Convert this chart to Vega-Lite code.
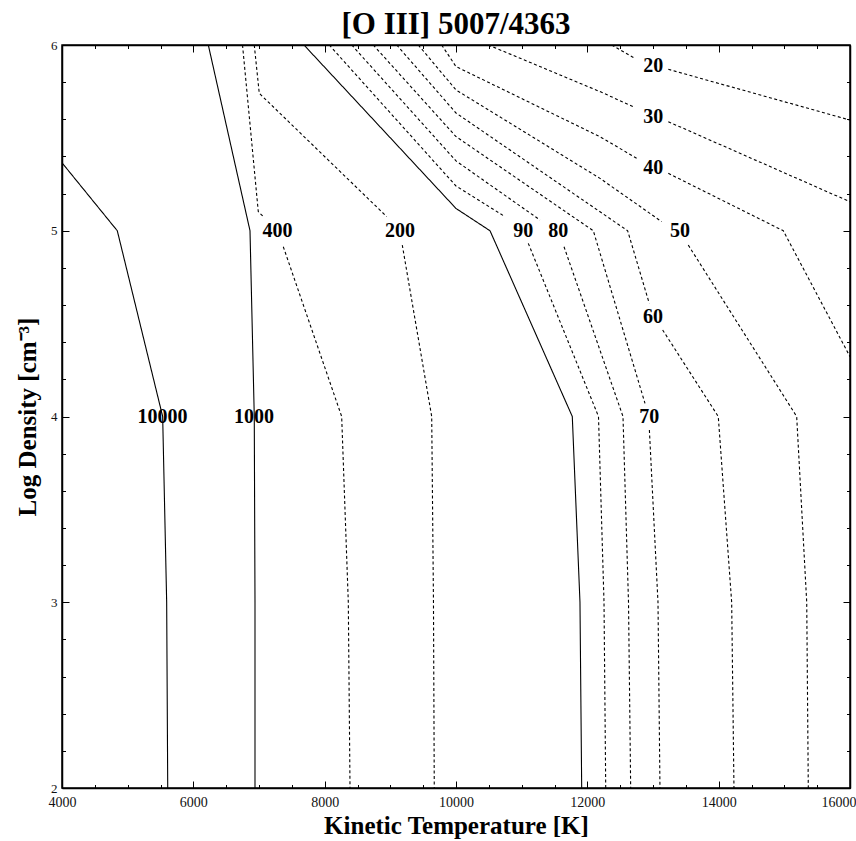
{
  "$schema": "https://vega.github.io/schema/vega-lite/v6.json",
  "width": 788,
  "height": 743,
  "autosize": {"type": "none"},
  "padding": {"left": 62, "top": 45, "right": 6, "bottom": 53},
  "background": "white",
  "title": {"text": "[O III] 5007/4363", "font": "Liberation Serif", "fontSize": 31, "fontWeight": "bold", "color": "black", "anchor": "middle", "baseline": "alphabetic", "offset": -26},
  "config": {
    "view": {"stroke": "black", "strokeWidth": 1.5},
    "axis": {"grid": false, "domainColor": "black", "domainWidth": 1.5, "tickColor": "black", "tickWidth": 1, "labelFont": "Liberation Serif", "labelFontSize": 14, "labelColor": "#111", "titleFont": "Liberation Serif", "titleFontSize": 25, "titleFontWeight": "bold", "titleColor": "black", "labelFlush": false, "labelOverlap": false}
  },
  "datasets": {
    "lines": [
      {"piece": "10000", "style": "solid", "i": 1, "T": 4000, "N": 5.366},
      {"piece": "10000", "style": "solid", "i": 2, "T": 4842, "N": 5},
      {"piece": "10000", "style": "solid", "i": 3, "T": 5533, "N": 4},
      {"piece": "10000", "style": "solid", "i": 4, "T": 5594, "N": 3},
      {"piece": "10000", "style": "solid", "i": 5, "T": 5610, "N": 2},
      {"piece": "1000", "style": "solid", "i": 1, "T": 6228, "N": 6},
      {"piece": "1000", "style": "solid", "i": 2, "T": 6863, "N": 5},
      {"piece": "1000", "style": "solid", "i": 3, "T": 6928, "N": 4},
      {"piece": "1000", "style": "solid", "i": 4, "T": 6939, "N": 3},
      {"piece": "1000", "style": "solid", "i": 5, "T": 6939, "N": 2},
      {"piece": "100", "style": "solid", "i": 1, "T": 7685, "N": 6},
      {"piece": "100", "style": "solid", "i": 2, "T": 10000, "N": 5.12},
      {"piece": "100", "style": "solid", "i": 3, "T": 10518, "N": 5},
      {"piece": "100", "style": "solid", "i": 4, "T": 11771, "N": 4},
      {"piece": "100", "style": "solid", "i": 5, "T": 11888, "N": 3},
      {"piece": "100", "style": "solid", "i": 6, "T": 11914, "N": 2},
      {"piece": "400a", "style": "dashed", "i": 1, "T": 6749, "N": 6},
      {"piece": "400a", "style": "dashed", "i": 2, "T": 6989, "N": 5.103},
      {"piece": "400a", "style": "dashed", "i": 3, "T": 7066, "N": 5.076},
      {"piece": "400b", "style": "dashed", "i": 1, "T": 7370, "N": 4.914},
      {"piece": "400b", "style": "dashed", "i": 2, "T": 8259, "N": 4},
      {"piece": "400b", "style": "dashed", "i": 3, "T": 8360, "N": 3},
      {"piece": "400b", "style": "dashed", "i": 4, "T": 8386, "N": 2},
      {"piece": "200a", "style": "dashed", "i": 1, "T": 6928, "N": 6},
      {"piece": "200a", "style": "dashed", "i": 2, "T": 7004, "N": 5.74},
      {"piece": "200a", "style": "dashed", "i": 3, "T": 8945, "N": 5.076},
      {"piece": "200b", "style": "dashed", "i": 1, "T": 9182, "N": 4.923},
      {"piece": "200b", "style": "dashed", "i": 2, "T": 9630, "N": 4},
      {"piece": "200b", "style": "dashed", "i": 3, "T": 9657, "N": 3},
      {"piece": "200b", "style": "dashed", "i": 4, "T": 9669, "N": 2},
      {"piece": "90a", "style": "dashed", "i": 1, "T": 8070, "N": 6},
      {"piece": "90a", "style": "dashed", "i": 2, "T": 10000, "N": 5.241},
      {"piece": "90a", "style": "dashed", "i": 3, "T": 10746, "N": 5.076},
      {"piece": "90b", "style": "dashed", "i": 1, "T": 11101, "N": 4.932},
      {"piece": "90b", "style": "dashed", "i": 2, "T": 12170, "N": 4},
      {"piece": "90b", "style": "dashed", "i": 3, "T": 12254, "N": 3},
      {"piece": "90b", "style": "dashed", "i": 4, "T": 12280, "N": 2},
      {"piece": "80a", "style": "dashed", "i": 1, "T": 8412, "N": 6},
      {"piece": "80a", "style": "dashed", "i": 2, "T": 10000, "N": 5.376},
      {"piece": "80a", "style": "dashed", "i": 3, "T": 11279, "N": 5.058},
      {"piece": "80b", "style": "dashed", "i": 1, "T": 11645, "N": 4.914},
      {"piece": "80b", "style": "dashed", "i": 2, "T": 12543, "N": 4},
      {"piece": "80b", "style": "dashed", "i": 3, "T": 12627, "N": 3},
      {"piece": "80b", "style": "dashed", "i": 4, "T": 12660, "N": 2},
      {"piece": "70a", "style": "dashed", "i": 1, "T": 8740, "N": 6},
      {"piece": "70a", "style": "dashed", "i": 2, "T": 10000, "N": 5.507},
      {"piece": "70a", "style": "dashed", "i": 3, "T": 12091, "N": 5},
      {"piece": "70a", "style": "dashed", "i": 4, "T": 12878, "N": 4.071},
      {"piece": "70b", "style": "dashed", "i": 1, "T": 12945, "N": 3.927},
      {"piece": "70b", "style": "dashed", "i": 2, "T": 13076, "N": 3},
      {"piece": "70b", "style": "dashed", "i": 3, "T": 13106, "N": 2},
      {"piece": "60a", "style": "dashed", "i": 1, "T": 9097, "N": 6},
      {"piece": "60a", "style": "dashed", "i": 2, "T": 10000, "N": 5.634},
      {"piece": "60a", "style": "dashed", "i": 3, "T": 12614, "N": 5},
      {"piece": "60a", "style": "dashed", "i": 4, "T": 12943, "N": 4.609},
      {"piece": "60b", "style": "dashed", "i": 1, "T": 13147, "N": 4.466},
      {"piece": "60b", "style": "dashed", "i": 2, "T": 13994, "N": 4},
      {"piece": "60b", "style": "dashed", "i": 3, "T": 14198, "N": 3},
      {"piece": "60b", "style": "dashed", "i": 4, "T": 14233, "N": 2},
      {"piece": "50a", "style": "dashed", "i": 1, "T": 9426, "N": 6},
      {"piece": "50a", "style": "dashed", "i": 2, "T": 10000, "N": 5.758},
      {"piece": "50a", "style": "dashed", "i": 3, "T": 12193, "N": 5.282},
      {"piece": "50a", "style": "dashed", "i": 4, "T": 13132, "N": 5.049},
      {"piece": "50b", "style": "dashed", "i": 1, "T": 13537, "N": 4.923},
      {"piece": "50b", "style": "dashed", "i": 2, "T": 15188, "N": 4},
      {"piece": "50b", "style": "dashed", "i": 3, "T": 15341, "N": 3},
      {"piece": "50b", "style": "dashed", "i": 4, "T": 15365, "N": 2},
      {"piece": "40a", "style": "dashed", "i": 1, "T": 9782, "N": 6},
      {"piece": "40a", "style": "dashed", "i": 2, "T": 10000, "N": 5.884},
      {"piece": "40a", "style": "dashed", "i": 3, "T": 12193, "N": 5.506},
      {"piece": "40a", "style": "dashed", "i": 4, "T": 12752, "N": 5.39},
      {"piece": "40b", "style": "dashed", "i": 1, "T": 13233, "N": 5.309},
      {"piece": "40b", "style": "dashed", "i": 2, "T": 14984, "N": 5},
      {"piece": "40b", "style": "dashed", "i": 3, "T": 16000, "N": 4.322},
      {"piece": "30a", "style": "dashed", "i": 1, "T": 10492, "N": 6},
      {"piece": "30a", "style": "dashed", "i": 2, "T": 12193, "N": 5.749},
      {"piece": "30a", "style": "dashed", "i": 3, "T": 12700, "N": 5.668},
      {"piece": "30b", "style": "dashed", "i": 1, "T": 13233, "N": 5.587},
      {"piece": "30b", "style": "dashed", "i": 2, "T": 16000, "N": 5.156},
      {"piece": "20a", "style": "dashed", "i": 1, "T": 12371, "N": 6},
      {"piece": "20a", "style": "dashed", "i": 2, "T": 12726, "N": 5.928},
      {"piece": "20b", "style": "dashed", "i": 1, "T": 13233, "N": 5.869},
      {"piece": "20b", "style": "dashed", "i": 2, "T": 16000, "N": 5.596}
    ],
    "labels": [
      {"label": "10000", "T": 5530, "N": 4},
      {"label": "1000", "T": 6924, "N": 4},
      {"label": "400", "T": 7282, "N": 5},
      {"label": "200", "T": 9147, "N": 5},
      {"label": "90", "T": 11025, "N": 5},
      {"label": "80", "T": 11558, "N": 5},
      {"label": "50", "T": 13411, "N": 5},
      {"label": "20", "T": 13004, "N": 5.889},
      {"label": "30", "T": 13004, "N": 5.614},
      {"label": "40", "T": 13004, "N": 5.339},
      {"label": "60", "T": 13000, "N": 4.537},
      {"label": "70", "T": 12943, "N": 4}
    ]
  },
  "layer": [
    {
      "data": {"name": "lines"},
      "mark": {"type": "line", "color": "black", "strokeWidth": 1.1, "clip": true},
      "encoding": {
        "x": {"field": "T", "type": "quantitative", "scale": {"domain": [4000, 16000], "nice": false, "zero": false},
          "axis": {"orient": "bottom", "values": [4000,4500,5000,5500,6000,6500,7000,7500,8000,8500,9000,9500,10000,10500,11000,11500,12000,12500,13000,13500,14000,14500,15000,15500,16000],
            "format": "d", "labelExpr": "datum.value % 2000 === 0 ? datum.label : ''",
            "labelAlign": {"condition": {"test": "datum.value === 16000", "value": "right"}, "value": "center"},
            "labelOffset": {"condition": {"test": "datum.value === 16000", "value": 6}, "value": 0},
            "tickSize": {"condition": {"test": "datum.value % 2000 === 0", "value": -7}, "value": -3.5},
            "labelPadding": 14, "title": "Kinetic Temperature [K]", "titleBaseline": "alphabetic", "titleY": 45.5}},
        "y": {"field": "N", "type": "quantitative", "scale": {"domain": [2, 6], "nice": false, "zero": false},
          "axis": {"orient": "left", "values": [2,2.2,2.4,2.6,2.8,3,3.2,3.4,3.6,3.8,4,4.2,4.4,4.6,4.8,5,5.2,5.4,5.6,5.8,6],
            "labelExpr": "abs(datum.value - round(datum.value)) < 0.01 ? format(datum.value, 'd') : ''",
            "tickSize": {"condition": {"test": "abs(datum.value - round(datum.value)) < 0.01", "value": -7}, "value": -3.5},
            "labelFontSize": 13, "labelPadding": 12, "title": "Log Density [cm⁻³]", "titleX": -27, "titleBaseline": "alphabetic"}},
        "detail": {"field": "piece", "type": "nominal"},
        "order": {"field": "i", "type": "quantitative"},
        "strokeDash": {"field": "style", "type": "nominal", "scale": {"domain": ["solid", "dashed"], "range": [[1, 0], [3, 2.5]]}, "legend": null}
      }
    },
    {
      "data": {"name": "labels"},
      "mark": {"type": "text", "font": "Liberation Serif", "fontSize": 20, "fontWeight": "bold", "color": "black", "baseline": "middle", "align": "center"},
      "encoding": {
        "x": {"field": "T", "type": "quantitative",
          "axis": {"orient": "top", "values": [4000,4500,5000,5500,6000,6500,7000,7500,8000,8500,9000,9500,10000,10500,11000,11500,12000,12500,13000,13500,14000,14500,15000,15500,16000],
            "labels": false, "title": null,
            "tickSize": {"condition": {"test": "datum.value % 2000 === 0", "value": -7}, "value": -3.5}}},
        "y": {"field": "N", "type": "quantitative",
          "axis": {"orient": "right", "values": [2,2.2,2.4,2.6,2.8,3,3.2,3.4,3.6,3.8,4,4.2,4.4,4.6,4.8,5,5.2,5.4,5.6,5.8,6],
            "labels": false, "title": null,
            "tickSize": {"condition": {"test": "abs(datum.value - round(datum.value)) < 0.01", "value": -7}, "value": -3.5}}},
        "text": {"field": "label", "type": "nominal"}
      }
    }
  ],
  "resolve": {"axis": {"x": "independent", "y": "independent"}}
}
